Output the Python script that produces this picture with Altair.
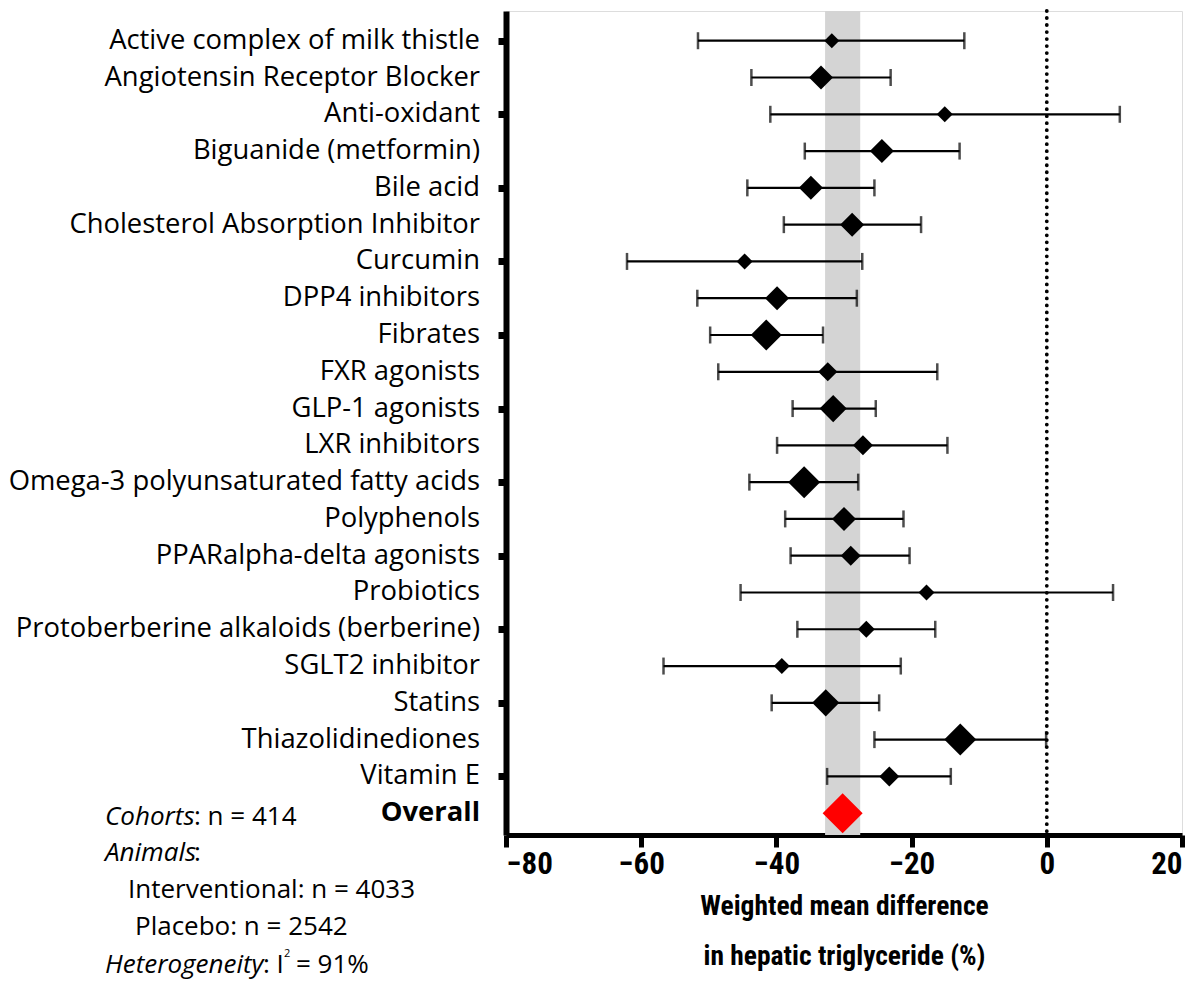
import altair as alt
import pandas as pd

names = [
    "Active complex of milk thistle", "Angiotensin Receptor Blocker", "Anti-oxidant",
    "Biguanide (metformin)", "Bile acid", "Cholesterol Absorption Inhibitor", "Curcumin",
    "DPP4 inhibitors", "Fibrates", "FXR agonists", "GLP-1 agonists", "LXR inhibitors",
    "Omega-3 polyunsaturated fatty acids", "Polyphenols", "PPARalpha-delta agonists",
    "Probiotics", "Protoberberine alkaloids (berberine)", "SGLT2 inhibitor", "Statins",
    "Thiazolidinediones", "Vitamin E", "Overall",
]
est = [-31.8, -33.4, -15.1, -24.4, -34.9, -28.8, -44.7, -39.9, -41.5, -32.4, -31.6,
       -27.2, -35.9, -30.0, -29.0, -17.8, -26.7, -39.2, -32.7, -12.8, -23.3, -30.2]
low = [-51.6, -43.7, -40.9, -35.8, -44.3, -38.9, -62.1, -51.7, -49.8, -48.6, -37.6,
       -39.9, -44.0, -38.7, -37.9, -45.3, -36.9, -56.7, -40.7, -25.5, -32.5, None]
high = [-12.2, -23.1, 10.8, -12.9, -25.5, -18.6, -27.3, -28.1, -33.1, -16.2, -25.3,
        -14.7, -27.9, -21.2, -20.3, 9.8, -16.5, -21.6, -24.8, -0.1, -14.2, None]
weight = [14, 36, 16, 36, 36, 36, 16, 36, 60, 23, 46, 25, 64, 36, 25, 16, 18, 16, 46, 64, 25, 100]
band = [-32.8, -27.6]
x_ticks = [-80, -60, -40, -20, 0, 20]

df = pd.DataFrame({
    "idx": list(range(len(names))),
    "name": names,
    "est": est,
    "low": low,
    "high": high,
    "weight": weight,
    "overall": [n == "Overall" for n in names],
})
band_df = pd.DataFrame({"lo": [band[0]], "hi": [band[1]]})
zero_df = pd.DataFrame({"x": [0]})

LABEL_FONT = "Open Sans"
LABEL_SIZE = 27.4
BOLD_NARROW = "Liberation Sans Narrow, Roboto Condensed, DejaVu Sans Condensed, sans-serif"

x_enc = alt.X(
    "est:Q",
    scale=alt.Scale(domain=[-80, 20], nice=False, zero=False),
    axis=alt.Axis(
        values=x_ticks, grid=False, domainWidth=5, domainColor="black",
        tickWidth=5, tickColor="black", tickSize=12,
        labelFont=BOLD_NARROW, labelFontWeight="bold", labelFontSize=31,
        labelColor="black", labelPadding=2,
        title=["Weighted mean difference", "in hepatic triglyceride (%)"],
        titleFont=BOLD_NARROW, titleFontWeight="bold", titleFontSize=27.5,
        titleColor="black", titlePadding=13, titleLineHeight=50,
    ),
)
y_scale = alt.Scale(domain=[-0.808, 21.593], reverse=True, nice=False, zero=False)
y_enc = alt.Y(
    "idx:Q",
    scale=y_scale,
    axis=alt.Axis(
        values=list(range(len(names))), grid=False, labels=False, title=None,
        domainWidth=6, domainColor="black", tickWidth=7, tickColor="black", tickSize=8,
    ),
)
y_plain = alt.Y("idx:Q", scale=y_scale)

base = alt.Chart(df)

band_layer = alt.Chart(band_df).mark_rect(color="#d4d4d4").encode(
    x=alt.X("lo:Q", scale=alt.Scale(domain=[-80, 20], nice=False, zero=False)),
    x2="hi:Q",
)
zero_layer = alt.Chart(zero_df).mark_rule(
    color="black", strokeWidth=3.8, strokeDash=[0.01, 7], strokeCap="round"
).encode(x="x:Q")

err = base.transform_filter("isValid(datum.low)")
err_line = err.mark_rule(color="black", strokeWidth=2.2).encode(
    x="low:Q", x2="high:Q", y=y_plain
)
cap_lo = err.mark_tick(color="black", thickness=2.5, size=17, orient="vertical").encode(
    x="low:Q", y=y_plain
)
cap_hi = err.mark_tick(color="black", thickness=2.5, size=17, orient="vertical").encode(
    x="high:Q", y=y_plain
)
diamonds = base.mark_point(shape="diamond", filled=True, opacity=1).encode(
    x=x_enc,
    y=y_enc,
    size=alt.Size("weight:Q", scale=alt.Scale(domain=[0, 100], range=[0, 1600]), legend=None),
    fill=alt.condition("datum.overall", alt.value("#ff0000"), alt.value("black")),
)
labels = base.transform_filter("!datum.overall").mark_text(
    align="right", baseline="middle", font=LABEL_FONT, fontSize=LABEL_SIZE, color="black"
).encode(x=alt.value(-26), y=y_plain, text="name:N")
label_bold = base.transform_filter("datum.overall").mark_text(
    align="right", baseline="middle", font=LABEL_FONT, fontSize=LABEL_SIZE,
    fontWeight="bold", color="black"
).encode(x=alt.value(-26), y=y_plain, text="name:N")

# bottom-left notes (text pieces; positions are layout)
def note(txt, x, y, italic=False, size=26):
    return alt.Chart(pd.DataFrame({"t": [txt]})).mark_text(
        align="left", baseline="middle", font=LABEL_FONT, fontSize=size,
        fontStyle="italic" if italic else "normal", color="black",
    ).encode(x=alt.value(x - 506), y=alt.value(y - 11), text="t:N")

notes = [
    note("Cohorts", 105, 817, True), note(": n = 414", 194, 817),
    note("Animals", 105, 853, True), note(":", 194, 853),
    note("Interventional: n = 4033", 128, 890),
    note("Placebo: n = 2542", 135, 927),
    note("Heterogeneity", 105, 965, True), note(": I", 263, 965),
    note("2", 284, 954, size=11), note("= 91%", 296, 965),
]

chart = alt.layer(
    band_layer, zero_layer, err_line, cap_lo, cap_hi, diamonds, labels, label_bold, *notes
).properties(
    width=676, height=824,
    padding={"left": 498, "top": 3, "right": 10, "bottom": 150},
    autosize=alt.AutoSizeParams(type="none"),
).configure_view(strokeWidth=0).configure(background="white")

chart.save("out.html", embed_options={"renderer": "svg", "actions": False})
